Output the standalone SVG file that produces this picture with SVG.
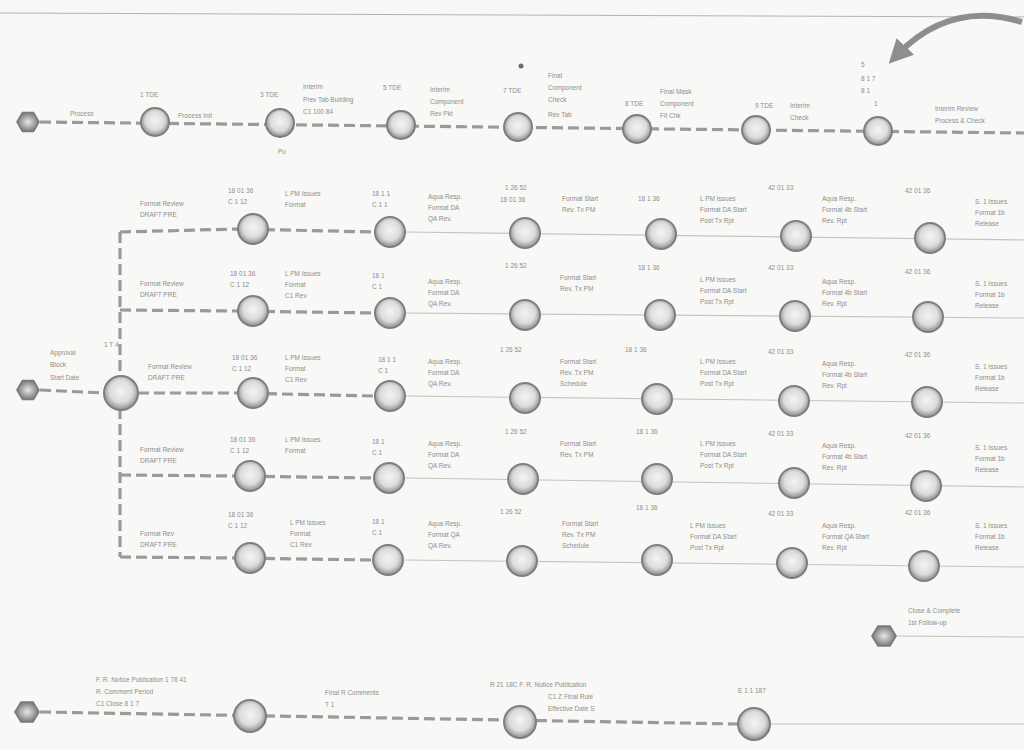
<svg xmlns="http://www.w3.org/2000/svg" width="1024" height="750" viewBox="0 0 1024 750">
<defs>
<radialGradient id="g" cx="50%" cy="45%" r="55%">
<stop offset="0" stop-color="#f4f4f2"/>
<stop offset="0.6" stop-color="#dcdcda"/>
<stop offset="1" stop-color="#8c8c8a"/>
</radialGradient>
<radialGradient id="h" cx="50%" cy="50%" r="50%">
<stop offset="0" stop-color="#e8e8e6"/>
<stop offset="0.5" stop-color="#b0b0ae"/>
<stop offset="1" stop-color="#7a7a78"/>
</radialGradient>
<marker id="ah" viewBox="0 0 10 10" refX="5" refY="5" markerWidth="4" markerHeight="4" orient="auto">
<path d="M0,0 L10,5 L0,10 z" fill="#8e8e8c"/>
</marker>
<style>
.n{fill:url(#g);stroke:#7e7e7c;stroke-width:2}
.x{fill:url(#h);stroke:#7a7a78;stroke-width:1.6}
.d{fill:none;stroke:#9a9a98;stroke-width:3.2;stroke-dasharray:11 5}
.s{fill:none;stroke:#c4c4c2;stroke-width:1.1}
.t{font-family:"Liberation Sans",Arial,sans-serif;font-size:6.5px;fill:#8e8e8c}
</style>
</defs>
<rect width="1024" height="750" fill="#f8f8f6"/>
<g id="connectors">
<path d="M0,13 L1024,17" stroke="#b4b4b2" stroke-width="1.2" fill="none"/>
<path d="M1022,22 Q950,0 897,55" stroke="#8e8e8c" stroke-width="6" fill="none" marker-end="url(#ah)"/>
<path class="d" d="M40,122 L1024,133"/>
<path class="d" d="M40,390 L104,393"/>
<path class="d" d="M120,232 L120,557"/>
<path class="d" d="M120,232 L238,229 L375,232"/>
<path class="d" d="M120,310 L236,311 L374,313"/>
<path class="d" d="M138,393 L236,393 L374,396"/>
<path class="d" d="M120,475 L236,476 L373,478"/>
<path class="d" d="M120,557 L236,558 L372,560"/>
<path class="s" d="M405,232 L1024,240"/>
<path class="s" d="M405,313 L1024,318"/>
<path class="s" d="M405,396 L1024,403"/>
<path class="s" d="M405,478 L1024,487"/>
<path class="s" d="M405,560 L1024,567"/>
<path class="s" d="M896,636 L1024,637"/>
<path class="d" d="M40,712 L738,724"/>
<path class="s" d="M770,724 L1024,724"/>
</g>
<g id="hex1"><polygon class="x" points="17,122 22.5,112.5 33.5,112.5 39,122 33.5,131.5 22.5,131.5"/></g>
<g id="r1n1"><circle class="n" cx="155" cy="122" r="14"/><text class="t" x="140" y="97">1 TDE</text><text class="t" x="70" y="116">Process</text><text class="t" x="178" y="118">Process Init</text></g>
<g id="r1n2"><circle class="n" cx="280" cy="123" r="14"/><text class="t" x="260" y="97">3 TDE</text><text class="t" x="303" y="89">Interim</text><text class="t" x="303" y="102">Prev Tab Building</text><text class="t" x="303" y="114">C1 100 84</text><text class="t" x="278" y="154">Pu</text></g>
<g id="r1n3"><circle class="n" cx="401" cy="125" r="14"/><text class="t" x="383" y="90">5 TDE</text><text class="t" x="430" y="92">Interim</text><text class="t" x="430" y="104">Component</text><text class="t" x="430" y="116">Rev Pkt</text></g>
<g id="r1n4"><circle class="n" cx="518" cy="127" r="14"/><circle cx="521" cy="66" r="2.5" fill="#6e6e6c"/><text class="t" x="503" y="93">7 TDE</text><text class="t" x="548" y="78">Final</text><text class="t" x="548" y="90">Component</text><text class="t" x="548" y="102">Check</text><text class="t" x="548" y="117">Rev Tab</text></g>
<g id="r1n5"><circle class="n" cx="637" cy="129" r="14"/><text class="t" x="625" y="106">8 TDE</text><text class="t" x="660" y="94">Final Mask</text><text class="t" x="660" y="106">Component</text><text class="t" x="660" y="118">Fit Chk</text></g>
<g id="r1n6"><circle class="n" cx="756" cy="130" r="14"/><text class="t" x="755" y="108">9 TDE</text><text class="t" x="790" y="108">Interim</text><text class="t" x="790" y="120">Check</text></g>
<g id="r1n7"><circle class="n" cx="878" cy="131" r="14"/><text class="t" x="861" y="67">5</text><text class="t" x="861" y="81">8  1  7</text><text class="t" x="861" y="93">8  1</text><text class="t" x="874" y="106">1</text><text class="t" x="935" y="111">Interim Review</text><text class="t" x="935" y="123">Process &amp; Check</text></g>
<g id="hex2"><polygon class="x" points="17,390 22.5,380.5 33.5,380.5 39,390 33.5,399.5 22.5,399.5"/><text class="t" x="50" y="355">Approval</text><text class="t" x="50" y="367">Block</text><text class="t" x="50" y="380">Start Date</text></g>
<g id="start"><circle class="n" cx="121" cy="393" r="17"/><text class="t" x="104" y="347">1  T  4</text></g>
<g id="m1a"><circle class="n" cx="253" cy="229" r="15"/><text class="t" x="140" y="206">Format Review</text><text class="t" x="140" y="217">DRAFT PRE</text><text class="t" x="228" y="193">18 01 36</text><text class="t" x="228" y="204">C 1 12</text><text class="t" x="285" y="196">L PM Issues</text><text class="t" x="285" y="207">Format</text></g>
<g id="m1b"><circle class="n" cx="253" cy="311" r="15"/><text class="t" x="140" y="286">Format Review</text><text class="t" x="140" y="297">DRAFT PRE</text><text class="t" x="230" y="276">18 01 36</text><text class="t" x="230" y="287">C 1 12</text><text class="t" x="285" y="276">L PM Issues</text><text class="t" x="285" y="287">Format</text><text class="t" x="285" y="298">C1 Rev</text></g>
<g id="m1c"><circle class="n" cx="253" cy="393" r="15"/><text class="t" x="148" y="369">Format Review</text><text class="t" x="148" y="380">DRAFT PRE</text><text class="t" x="232" y="360">18 01 36</text><text class="t" x="232" y="371">C 1 12</text><text class="t" x="285" y="360">L PM Issues</text><text class="t" x="285" y="371">Format</text><text class="t" x="285" y="382">C1 Rev</text></g>
<g id="m1d"><circle class="n" cx="250" cy="476" r="15"/><text class="t" x="140" y="452">Format Review</text><text class="t" x="140" y="463">DRAFT PRE</text><text class="t" x="230" y="442">18 01 36</text><text class="t" x="230" y="453">C 1 12</text><text class="t" x="285" y="442">L PM Issues</text><text class="t" x="285" y="453">Format</text></g>
<g id="m1e"><circle class="n" cx="250" cy="558" r="15"/><text class="t" x="140" y="536">Format Rev</text><text class="t" x="140" y="547">DRAFT PRE</text><text class="t" x="228" y="517">18 01 36</text><text class="t" x="228" y="528">C 1 12</text><text class="t" x="290" y="525">L PM Issues</text><text class="t" x="290" y="536">Format</text><text class="t" x="290" y="547">C1 Rev</text></g>
<g id="m2a"><circle class="n" cx="390" cy="232" r="15"/><text class="t" x="372" y="196">18 1 1</text><text class="t" x="372" y="207">C 1 1</text><text class="t" x="428" y="199">Aqua Resp.</text><text class="t" x="428" y="210">Format DA</text><text class="t" x="428" y="221">QA Rev.</text></g>
<g id="m2b"><circle class="n" cx="390" cy="313" r="15"/><text class="t" x="372" y="278">18 1</text><text class="t" x="372" y="289">C 1</text><text class="t" x="428" y="284">Aqua Resp.</text><text class="t" x="428" y="295">Format DA</text><text class="t" x="428" y="306">QA Rev.</text></g>
<g id="m2c"><circle class="n" cx="390" cy="396" r="15"/><text class="t" x="378" y="362">18 1 1</text><text class="t" x="378" y="373">C 1</text><text class="t" x="428" y="364">Aqua Resp.</text><text class="t" x="428" y="375">Format DA</text><text class="t" x="428" y="386">QA Rev.</text></g>
<g id="m2d"><circle class="n" cx="389" cy="478" r="15"/><text class="t" x="372" y="444">18 1</text><text class="t" x="372" y="455">C 1</text><text class="t" x="428" y="446">Aqua Resp.</text><text class="t" x="428" y="457">Format DA</text><text class="t" x="428" y="468">QA Rev.</text></g>
<g id="m2e"><circle class="n" cx="388" cy="560" r="15"/><text class="t" x="372" y="524">18 1</text><text class="t" x="372" y="535">C 1</text><text class="t" x="428" y="526">Aqua Resp.</text><text class="t" x="428" y="537">Format QA</text><text class="t" x="428" y="548">QA Rev.</text></g>
<g id="m3a"><circle class="n" cx="525" cy="233" r="15"/><text class="t" x="505" y="190">1 26 52</text><text class="t" x="500" y="202">18 01 36</text><text class="t" x="562" y="201">Format Start</text><text class="t" x="562" y="212">Rev. Tx PM</text></g>
<g id="m3b"><circle class="n" cx="525" cy="315" r="15"/><text class="t" x="505" y="268">1 26 52</text><text class="t" x="560" y="280">Format Start</text><text class="t" x="560" y="291">Rev. Tx PM</text></g>
<g id="m3c"><circle class="n" cx="525" cy="398" r="15"/><text class="t" x="500" y="352">1 26 52</text><text class="t" x="560" y="364">Format Start</text><text class="t" x="560" y="375">Rev. Tx PM</text><text class="t" x="560" y="386">Schedule</text></g>
<g id="m3d"><circle class="n" cx="523" cy="479" r="15"/><text class="t" x="505" y="434">1 26 52</text><text class="t" x="560" y="446">Format Start</text><text class="t" x="560" y="457">Rev. Tx PM</text></g>
<g id="m3e"><circle class="n" cx="522" cy="561" r="15"/><text class="t" x="500" y="514">1 26 52</text><text class="t" x="562" y="526">Format Start</text><text class="t" x="562" y="537">Rev. Tx PM</text><text class="t" x="562" y="548">Schedule</text></g>
<g id="m4a"><circle class="n" cx="661" cy="234" r="15"/><text class="t" x="638" y="201">18 1 36</text><text class="t" x="700" y="201">L PM Issues</text><text class="t" x="700" y="212">Format DA Start</text><text class="t" x="700" y="223">Post Tx Rpt</text></g>
<g id="m4b"><circle class="n" cx="660" cy="315" r="15"/><text class="t" x="638" y="270">18 1 36</text><text class="t" x="700" y="282">L PM Issues</text><text class="t" x="700" y="293">Format DA Start</text><text class="t" x="700" y="304">Post Tx Rpt</text></g>
<g id="m4c"><circle class="n" cx="657" cy="399" r="15"/><text class="t" x="625" y="352">18 1 36</text><text class="t" x="700" y="364">L PM Issues</text><text class="t" x="700" y="375">Format DA Start</text><text class="t" x="700" y="386">Post Tx Rpt</text></g>
<g id="m4d"><circle class="n" cx="657" cy="479" r="15"/><text class="t" x="636" y="434">18 1 36</text><text class="t" x="700" y="446">L PM Issues</text><text class="t" x="700" y="457">Format DA Start</text><text class="t" x="700" y="468">Post Tx Rpt</text></g>
<g id="m4e"><circle class="n" cx="657" cy="560" r="15"/><text class="t" x="636" y="510">18 1 36</text><text class="t" x="690" y="528">L PM Issues</text><text class="t" x="690" y="539">Format DA Start</text><text class="t" x="690" y="550">Post Tx Rpt</text></g>
<g id="m5a"><circle class="n" cx="796" cy="236" r="15"/><text class="t" x="768" y="190">42 01 33</text><text class="t" x="822" y="201">Aqua Resp.</text><text class="t" x="822" y="212">Format 4b Start</text><text class="t" x="822" y="223">Rev. Rpt</text></g>
<g id="m5b"><circle class="n" cx="795" cy="316" r="15"/><text class="t" x="768" y="270">42 01 33</text><text class="t" x="822" y="284">Aqua Resp.</text><text class="t" x="822" y="295">Format 4b Start</text><text class="t" x="822" y="306">Rev. Rpt</text></g>
<g id="m5c"><circle class="n" cx="794" cy="401" r="15"/><text class="t" x="768" y="354">42 01 33</text><text class="t" x="822" y="366">Aqua Resp.</text><text class="t" x="822" y="377">Format 4b Start</text><text class="t" x="822" y="388">Rev. Rpt</text></g>
<g id="m5d"><circle class="n" cx="794" cy="483" r="15"/><text class="t" x="768" y="436">42 01 33</text><text class="t" x="822" y="448">Aqua Resp.</text><text class="t" x="822" y="459">Format 4b Start</text><text class="t" x="822" y="470">Rev. Rpt</text></g>
<g id="m5e"><circle class="n" cx="792" cy="563" r="15"/><text class="t" x="768" y="516">42 01 33</text><text class="t" x="822" y="528">Aqua Resp.</text><text class="t" x="822" y="539">Format QA Start</text><text class="t" x="822" y="550">Rev. Rpt</text></g>
<g id="m6a"><circle class="n" cx="930" cy="238" r="15"/><text class="t" x="905" y="193">42 01 36</text><text class="t" x="975" y="204">S. 1 Issues</text><text class="t" x="975" y="215">Format 1b</text><text class="t" x="975" y="226">Release</text></g>
<g id="m6b"><circle class="n" cx="928" cy="317" r="15"/><text class="t" x="905" y="274">42 01 36</text><text class="t" x="975" y="286">S. 1 Issues</text><text class="t" x="975" y="297">Format 1b</text><text class="t" x="975" y="308">Release</text></g>
<g id="m6c"><circle class="n" cx="927" cy="402" r="15"/><text class="t" x="905" y="357">42 01 36</text><text class="t" x="975" y="369">S. 1 Issues</text><text class="t" x="975" y="380">Format 1b</text><text class="t" x="975" y="391">Release</text></g>
<g id="m6d"><circle class="n" cx="926" cy="486" r="15"/><text class="t" x="905" y="438">42 01 36</text><text class="t" x="975" y="450">S. 1 Issues</text><text class="t" x="975" y="461">Format 1b</text><text class="t" x="975" y="472">Release</text></g>
<g id="m6e"><circle class="n" cx="924" cy="566" r="15"/><text class="t" x="905" y="515">42 01 36</text><text class="t" x="975" y="528">S. 1 Issues</text><text class="t" x="975" y="539">Format 1b</text><text class="t" x="975" y="550">Release</text></g>
<g id="hex3"><polygon class="x" points="872,636 878,626 890,626 896,636 890,646 878,646"/><text class="t" x="908" y="613">Close &amp; Complete</text><text class="t" x="908" y="625">1st Follow-up</text></g>
<g id="hex4"><polygon class="x" points="15,712 21,702 33,702 39,712 33,722 21,722"/></g>
<g id="b1"><circle class="n" cx="250" cy="716" r="16"/><text class="t" x="96" y="682">F. R. Notice Publication  1 78  41</text><text class="t" x="96" y="694">R. Comment Period</text><text class="t" x="96" y="706">C1 Close  8 1 7</text></g>
<g id="b2"><circle class="n" cx="520" cy="722" r="16"/><text class="t" x="325" y="695">Final R Comments</text><text class="t" x="325" y="707">T 1</text><text class="t" x="490" y="687">R 21  18C  F. R. Notice Publication</text><text class="t" x="548" y="699">C1 Z  Final Rule</text><text class="t" x="548" y="711">Effective Date  S</text></g>
<g id="b3"><circle class="n" cx="754" cy="724" r="16"/><text class="t" x="738" y="693">E 1 1 187</text></g>
</svg>
